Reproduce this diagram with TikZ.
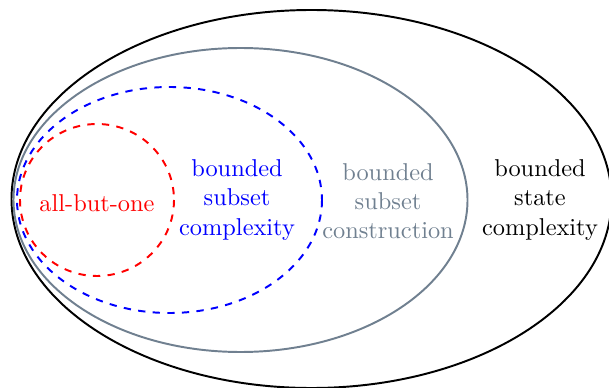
\documentclass[tikz,border=0pt]{standalone}
\usetikzlibrary{shapes.geometric}
\definecolor{slate}{RGB}{112,128,144}
\begin{document}
\begin{tikzpicture}[x=0.4105pt,y=-0.4105pt,
  setline/.style={line width=0.8pt},
  lbl/.style={align=center,inner sep=0pt}]
\useasboundingbox (0,0) rectangle (609,387);
\begin{scope}
\clip (0,0) rectangle (609,387);
\draw[setline,black] (311.5,199) ellipse [x radius=300, y radius=189];
\end{scope}
\draw[setline,slate] (240.5,200) ellipse [x radius=227, y radius=152];
\draw[setline,blue,dashed] (169.5,200) ellipse [x radius=152.5, y radius=113];
\draw[setline,red,dashed] (97,200) ellipse [x radius=77, y radius=76];
\node[lbl,red] (abo) at (97,203) {all-but-one};
\node[lbl,blue] (bsc) at (237,200) {bounded\\subset\\complexity};
\node[lbl,slate] (bscon) at (388,201) {bounded\\subset\\construction};
\node[lbl,black] (bstc) at (540,200) {bounded\\state\\complexity};
\end{tikzpicture}
\end{document}
